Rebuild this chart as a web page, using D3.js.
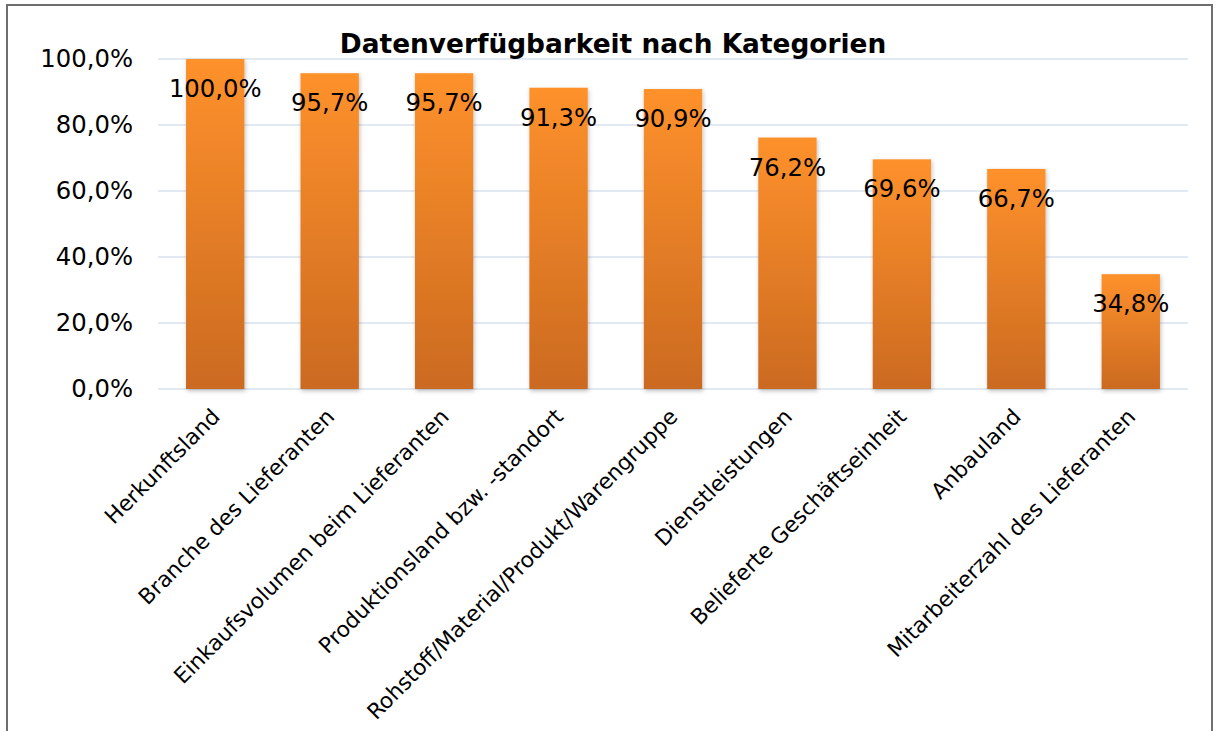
<!DOCTYPE html>
<html>
<head>
<meta charset="utf-8">
<script src="https://cdn.jsdelivr.net/npm/d3@7"></script>
<style>
  body { margin: 0; background: #fff; }
  svg { display: block; font-family: "DejaVu Sans", Verdana, sans-serif; }
</style>
</head>
<body>
<svg id="chart" width="1218" height="731"></svg>
<script>
const categories = [
  "Herkunftsland",
  "Branche des Lieferanten",
  "Einkaufsvolumen beim Lieferanten",
  "Produktionsland bzw. -standort",
  "Rohstoff/Material/Produkt/Warengruppe",
  "Dienstleistungen",
  "Belieferte Geschäftseinheit",
  "Anbauland",
  "Mitarbeiterzahl des Lieferanten"
];
const values = [100.0, 95.7, 95.7, 91.3, 90.9, 76.2, 69.6, 66.7, 34.8];
const yTicks = [0, 20, 40, 60, 80, 100];
const title = "Datenverfügbarkeit nach Kategorien";

const svg = d3.select("#chart");
const width = +svg.attr("width");
const height = +svg.attr("height");
const margin = { top: 59, right: 30, bottom: 342, left: 158 };
const innerW = width - margin.left - margin.right;
const innerH = height - margin.top - margin.bottom;

const fmt = v => v.toFixed(1).replace(".", ",") + "%";

// outer frame (bottom edge is cut off in the picture)
svg.append("path")
  .attr("d", `M7,${height} V5 H1212 V${height}`)
  .attr("fill", "none")
  .attr("stroke", "#6e6e6e")
  .attr("stroke-width", 2);

const defs = svg.append("defs");
const grad = defs.append("linearGradient")
  .attr("id", "barFill")
  .attr("x1", 0).attr("y1", 0).attr("x2", 0).attr("y2", 1);
grad.append("stop").attr("offset", "0%").attr("stop-color", "#fe912c");
grad.append("stop").attr("offset", "100%").attr("stop-color", "#cb6a20");

defs.append("filter")
  .attr("id", "shadow")
  .attr("x", "-20%").attr("y", "-5%").attr("width", "140%").attr("height", "110%")
  .append("feDropShadow")
  .attr("dx", 1).attr("dy", 2).attr("stdDeviation", 2)
  .attr("flood-color", "#000").attr("flood-opacity", 0.25);

const g = svg.append("g").attr("transform", `translate(${margin.left},${margin.top})`);

const x = d3.scaleBand()
  .domain(categories)
  .range([0, innerW])
  .paddingInner(0.49)
  .paddingOuter(0.245);

const y = d3.scaleLinear().domain([0, 100]).range([innerH, 0]);

// gridlines
g.append("g")
  .selectAll("line")
  .data(yTicks)
  .join("line")
  .attr("x1", 0).attr("x2", innerW)
  .attr("y1", d => y(d)).attr("y2", d => y(d))
  .attr("stroke", "#d8e2ef")
  .attr("stroke-width", 1.5);

// y axis labels
const axisY = d3.axisLeft(y).tickValues(yTicks).tickFormat(fmt).tickSize(0).tickPadding(25);
g.append("g")
  .call(axisY)
  .call(s => s.select(".domain").remove())
  .selectAll("text")
  .attr("font-size", 24.3)
  .attr("font-family", "DejaVu Sans, Verdana, sans-serif")
  .attr("fill", "#000");

// bars
g.append("g")
  .selectAll("rect")
  .data(values)
  .join("rect")
  .attr("x", (d, i) => x(categories[i]))
  .attr("width", x.bandwidth())
  .attr("y", d => y(d))
  .attr("height", d => innerH - y(d))
  .attr("fill", "url(#barFill)")
  .attr("filter", "url(#shadow)");

// data labels
g.append("g")
  .selectAll("text")
  .data(values)
  .join("text")
  .attr("x", (d, i) => x(categories[i]) + x.bandwidth() / 2)
  .attr("y", d => y(d) + 38)
  .attr("text-anchor", "middle")
  .attr("font-size", 24.3)
  .attr("fill", "#000")
  .text(fmt);

// x axis labels, rotated
const axisX = d3.axisBottom(x).tickSize(0).tickPadding(0);
g.append("g")
  .attr("transform", `translate(0,${innerH})`)
  .call(axisX)
  .call(s => s.select(".domain").remove())
  .selectAll("text")
  .attr("font-size", 21.7)
  .attr("font-family", "DejaVu Sans, Verdana, sans-serif")
  .attr("fill", "#000")
  .attr("text-anchor", "end")
  .attr("dy", null)
  .attr("transform", "translate(6,29) rotate(-45)");

// title
svg.append("text")
  .attr("x", 613)
  .attr("y", 53)
  .attr("text-anchor", "middle")
  .attr("font-size", 26.4)
  .attr("font-weight", "bold")
  .attr("fill", "#000")
  .text(title);
</script>
</body>
</html>
